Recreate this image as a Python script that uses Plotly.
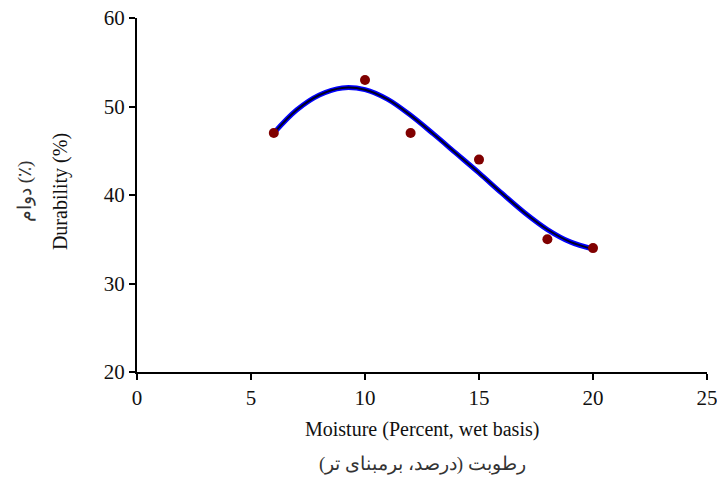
import plotly.graph_objects as go

moisture = [6, 10, 12, 15, 18, 20]
durability = [47, 53, 47, 44, 35, 34]

trend_x = [6, 7, 8, 9, 10, 11, 12, 13, 14, 15, 16, 17, 18, 19, 20]
trend_y = [47.0, 49.6, 51.3, 52.1, 51.9, 50.8, 49.0, 46.9, 44.7, 42.5, 40.2, 38.0, 36.1, 34.7, 33.9]

x_ticks = [0, 5, 10, 15, 20, 25]
y_ticks = [20, 30, 40, 50, 60]

x_title_en = "Moisture (Percent, wet basis)"
x_title_fa = "رطوبت (درصد، برمبنای تر)"
y_title_en = "Durability (%)"
y_title_fa = "دوام (٪)"

fig = go.Figure()
fig.add_trace(go.Scatter(x=trend_x, y=trend_y, mode="lines",
                         line=dict(color="#0000ff", width=5, shape="spline"),
                         hoverinfo="skip", showlegend=False))
fig.add_trace(go.Scatter(x=trend_x, y=trend_y, mode="lines",
                         line=dict(color="#000022", width=2, shape="spline"),
                         hoverinfo="skip", showlegend=False))
fig.add_trace(go.Scatter(x=moisture, y=durability, mode="markers",
                         marker=dict(color="#800000", size=10),
                         showlegend=False))

font_family = "Liberation Serif, Times New Roman, serif"
tfont = dict(family=font_family, size=20, color="#111")
fig.update_layout(
    width=717, height=478,
    margin=dict(l=137, r=10, t=18, b=106),
    plot_bgcolor="white", paper_bgcolor="white",
    font=dict(family=font_family, size=20, color="#111"),
    annotations=[
        dict(text=x_title_en, x=0.5, y=-0.1638, xref="paper", yref="paper",
             xanchor="center", yanchor="middle", showarrow=False, font=tfont),
        dict(text=x_title_fa, x=0.5, y=-0.2599, xref="paper", yref="paper",
             xanchor="center", yanchor="middle", showarrow=False,
             font=dict(family=font_family, size=19, color="#333")),
        dict(text=y_title_en, x=-0.1351, y=0.511, xref="paper", yref="paper",
             xanchor="center", yanchor="middle", showarrow=False, font=tfont,
             textangle=-90),
        dict(text=y_title_fa, x=-0.1965, y=0.511, xref="paper", yref="paper",
             xanchor="center", yanchor="middle", showarrow=False,
             font=dict(family=font_family, size=19, color="#333"),
             textangle=-90),
    ],
)
fig.update_xaxes(
    range=[0, 25], tickvals=x_ticks, showgrid=False, zeroline=False,
    showline=True, linecolor="black", linewidth=2,
    ticks="outside", ticklen=6, tickwidth=2, tickcolor="black",
    tickfont=dict(size=21, color="#111"), ticklabeloverflow="allow",
    automargin=False,
)
fig.update_yaxes(
    range=[20, 60], tickvals=y_ticks, showgrid=False, zeroline=False,
    showline=True, linecolor="black", linewidth=2,
    ticks="outside", ticklen=6, tickwidth=2, tickcolor="black",
    tickfont=dict(size=21, color="#111"), ticklabeloverflow="allow",
    automargin=False,
)

fig.write_html("out.html",
               config={"displayModeBar": False},
               post_script="document.body.style.margin='0';document.body.style.overflow='hidden';")
